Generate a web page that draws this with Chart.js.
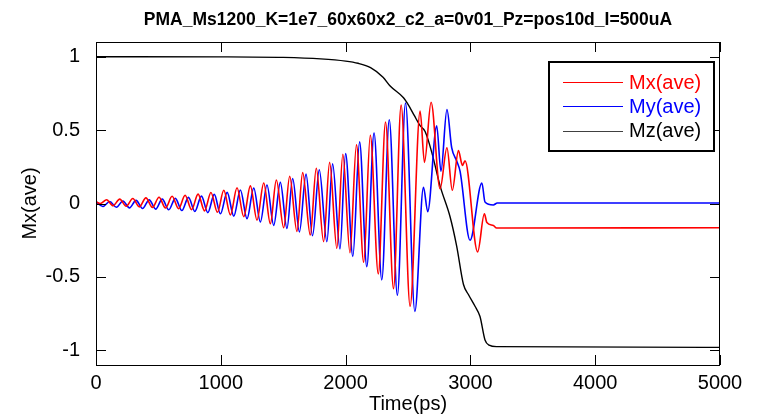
<!DOCTYPE html>
<html>
<head>
<meta charset="utf-8">
<script src="https://cdn.jsdelivr.net/npm/chart.js@4/dist/chart.umd.min.js"></script>
<style>
  html, body { margin: 0; padding: 0; background: #fff; }
  #wrap { width: 759px; height: 416px; }
</style>
</head>
<body>
<div id="wrap"><canvas id="chart" width="759" height="416"></canvas></div>
<script>
const titleText = "PMA_Ms1200_K=1e7_60x60x2_c2_a=0v01_Pz=pos10d_I=500uA";
const xLabel = "Time(ps)";
const yLabel = "Mx(ave)";
const xTicks = [0, 1000, 2000, 3000, 4000, 5000];
const yTicks = [-1, -0.5, 0, 0.5, 1];
const seriesNames = ["Mx(ave)", "My(ave)", "Mz(ave)"];
const seriesColors = ["#ff0000", "#0000ff", "#000000"];

// Mx: peaks and troughs
const mxTime = [0, 35, 85, 137, 190, 242, 295, 347, 400, 452, 505, 557, 610, 662, 714, 766, 818, 870, 921, 973,
  1024, 1077, 1130, 1184, 1237, 1290, 1344, 1397, 1445, 1504, 1552, 1610, 1656, 1717, 1765, 1824, 1872, 1930, 1978,
  2035, 2087, 2145, 2198, 2262, 2320, 2384, 2445, 2517, 2597, 2632, 2685, 2757, 2812, 2855, 2904, 2936, 2957,
  3058, 3112, 3132, 3184, 3210, 5000];
const mxValue = [0.012, 0.0, 0.026, -0.015, 0.03, -0.019, 0.034, -0.023, 0.038, -0.027, 0.043, -0.031, 0.049, -0.036,
  0.056, -0.042, 0.064, -0.05, 0.075, -0.06, 0.09, -0.078, 0.107, -0.09, 0.12, -0.113, 0.14, -0.138, 0.16, -0.165,
  0.186, -0.19, 0.21, -0.215, 0.24, -0.26, 0.28, -0.305, 0.335, -0.335, 0.40, -0.40, 0.465, -0.48, 0.555, -0.58,
  0.67, -0.70, 0.63, 0.28, 0.69, 0.10, 0.38, 0.09, 0.36, 0.26, 0.29, -0.33, -0.07, -0.13, -0.15, -0.167, -0.165];

// My
const myTime = [0, 55, 110, 163, 216, 268, 321, 373, 426, 478, 531, 583, 636, 688, 741, 792, 845, 896, 948, 997,
  1051, 1104, 1157, 1210, 1264, 1317, 1370, 1424, 1477, 1530, 1576, 1630, 1683, 1735, 1789, 1850, 1896, 1955, 2000,
  2058, 2112, 2170, 2228, 2290, 2350, 2415, 2480, 2555, 2624, 2658, 2730, 2764, 2812, 2850, 2890, 2917, 2997,
  3092, 3117, 3184, 3215, 5000];
const myValue = [0.012, -0.02, 0.014, -0.026, 0.017, -0.03, 0.021, -0.034, 0.025, -0.038, 0.03, -0.043, 0.035, -0.048,
  0.042, -0.054, 0.05, -0.062, 0.062, -0.07, 0.076, -0.086, 0.092, -0.103, 0.106, -0.126, 0.126, -0.149, 0.144, -0.17,
  0.17, -0.194, 0.20, -0.22, 0.23, -0.26, 0.27, -0.31, 0.34, -0.36, 0.42, -0.43, 0.48, -0.52, 0.57, -0.625, 0.685,
  -0.735, 0.11, -0.055, 0.53, 0.22, 0.64, 0.38, 0.29, 0.22, -0.25, 0.14, 0.01, -0.01, 0.003, 0.003];

// Mz
const mzTime = [0, 1000, 1500, 1800, 2000, 2100, 2200, 2300, 2357, 2464, 2504, 2550, 2597, 2637, 2690, 2757, 2837,
  2890, 2944, 2984, 3037, 3077, 3117, 3150, 3210, 5000];
const mzValue = [1.0, 0.999, 0.995, 0.985, 0.97, 0.955, 0.925, 0.86, 0.80, 0.72, 0.67, 0.60, 0.53, 0.49, 0.35, 0.12,
  -0.09, -0.29, -0.55, -0.62, -0.70, -0.77, -0.93, -0.965, -0.975, -0.98];

const fontFamily = "'Liberation Sans', Arial, Helvetica, sans-serif";
const pairs = (ts, vs) => ts.map((t, i) => ({ x: t, y: vs[i] }));

const frame = {
  id: "frame",
  afterDraw(chart) {
    const { ctx, chartArea: a, scales } = chart;
    ctx.save();
    // box round the plot
    ctx.strokeStyle = "#000";
    ctx.lineWidth = 1;
    ctx.strokeRect(a.left + 0.5, a.top + 0.5, a.right - a.left - 1, a.bottom - a.top);
    // inward ticks on all four sides
    const tl = 10;
    ctx.beginPath();
    xTicks.forEach((v) => {
      const x = Math.round(scales.x.getPixelForValue(v)) + 0.5;
      ctx.moveTo(x, a.bottom); ctx.lineTo(x, a.bottom - tl);
      ctx.moveTo(x, a.top); ctx.lineTo(x, a.top + tl);
    });
    yTicks.forEach((v) => {
      const y = Math.round(scales.y.getPixelForValue(v)) + 0.5;
      ctx.moveTo(a.left, y); ctx.lineTo(a.left + tl, y);
      ctx.moveTo(a.right, y); ctx.lineTo(a.right - tl, y);
    });
    ctx.stroke();

    // title
    ctx.fillStyle = "#000";
    ctx.font = "bold 17.5px " + fontFamily;
    ctx.textAlign = "center";
    ctx.textBaseline = "middle";
    ctx.fillText(titleText, (a.left + a.right) / 2, 20);

    // legend
    const box = { x: 549, y: 62, w: 165, h: 89 };
    ctx.fillStyle = "#fff";
    ctx.fillRect(box.x, box.y, box.w, box.h);
    ctx.lineWidth = 2;
    ctx.strokeStyle = "#000";
    ctx.strokeRect(box.x, box.y, box.w, box.h);
    ctx.font = "20px " + fontFamily;
    ctx.textAlign = "left";
    chart.data.datasets.forEach((ds, i) => {
      const y = 82 + i * 24.3;
      ctx.strokeStyle = i === 2 ? "#404040" : ds.borderColor;
      ctx.lineWidth = 1;
      ctx.beginPath();
      ctx.moveTo(563, Math.round(y) + 0.5);
      ctx.lineTo(623, Math.round(y) + 0.5);
      ctx.stroke();
      ctx.fillStyle = ds.borderColor;
      ctx.fillText(ds.label, 629, y + 1);
    });
    ctx.restore();
  }
};

const mkSet = (i, ts, vs) => ({
  label: seriesNames[i],
  data: pairs(ts, vs),
  borderColor: seriesColors[i],
  backgroundColor: seriesColors[i],
  borderWidth: i === 2 ? 1.4 : 1.6,
  pointRadius: 0,
  fill: false,
  cubicInterpolationMode: "monotone"
});

new Chart(document.getElementById("chart"), {
  type: "line",
  data: {
    datasets: [mkSet(0, mxTime, mxValue), mkSet(1, myTime, myValue), mkSet(2, mzTime, mzValue)]
  },
  options: {
    responsive: false,
    animation: false,
    layout: { padding: { top: 42, right: 39, bottom: 0, left: 0 } },
    plugins: { legend: { display: false }, tooltip: { enabled: false }, title: { display: false } },
    scales: {
      x: {
        type: "linear",
        min: 0,
        max: 5000,
        afterBuildTicks: (axis) => { axis.ticks = xTicks.map((v) => ({ value: v })); },
        afterFit: (axis) => { axis.height = 51; },
        grid: { display: false, drawTicks: false },
        border: { display: false },
        ticks: { color: "#000", font: { family: fontFamily, size: 20 }, padding: 6, maxRotation: 0, autoSkip: false,
          callback: (v) => String(v) },
        title: { display: true, text: xLabel, color: "#000", font: { family: fontFamily, size: 20 },
          padding: { top: 0, bottom: 0 } }
      },
      y: {
        type: "linear",
        min: -1.1,
        max: 1.1,
        afterBuildTicks: (axis) => { axis.ticks = yTicks.map((v) => ({ value: v })); },
        afterFit: (axis) => { axis.width = 96; },
        grid: { display: false, drawTicks: false },
        border: { display: false },
        ticks: { color: "#000", font: { family: fontFamily, size: 20 }, padding: 16, callback: (v) => String(v) },
        title: { display: true, text: yLabel, color: "#000", font: { family: fontFamily, size: 20 },
          padding: { top: 18, bottom: 0 } }
      }
    }
  },
  plugins: [frame]
});
</script>
</body>
</html>
